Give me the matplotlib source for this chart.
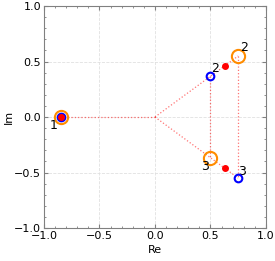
import numpy as np
import matplotlib
matplotlib.use("Agg")
import matplotlib.pyplot as plt
from matplotlib.ticker import MultipleLocator

# points (complex plane)
blue_re = [-0.85, 0.50, 0.75]
blue_im = [0.00, 0.37, -0.55]
orange_re = [-0.85, 0.75, 0.50]
orange_im = [0.00, 0.55, -0.37]
red_re = [-0.85, 0.63, 0.63]
red_im = [0.00, 0.46, -0.46]

# labels: (text, re, im, dx, dy) offsets in points
labels = [
    ("1", -0.85, 0.00, -5, -6),
    ("2", 0.50, 0.37, 3, 5),
    ("2", 0.75, 0.55, 4, 6),
    ("3", 0.50, -0.37, -4, -6),
    ("3", 0.75, -0.55, 3, 5),
]

fig = plt.figure(figsize=(2.75, 2.61), dpi=100)
ax = fig.add_axes([0.16, 0.1264, 0.807, 0.8506])

line_kw = dict(color="red", linestyle=":", linewidth=0.9, alpha=0.55, zorder=1)
# horizontal line from pole 1 to origin
ax.plot([red_re[0], 0], [red_im[0], 0], **line_kw)
# rays from origin
ax.plot([0, orange_re[1]], [0, orange_im[1]], **line_kw)
ax.plot([0, blue_re[2]], [0, blue_im[2]], **line_kw)
# vertical lines
ax.plot([blue_re[1], orange_re[2]], [blue_im[1], orange_im[2]], **line_kw)
ax.plot([orange_re[1], blue_re[2]], [orange_im[1], blue_im[2]], **line_kw)

ax.plot(orange_re, orange_im, "o", ms=9.5, mfc="none", mec="darkorange", mew=1.5, ls="none", zorder=3)
ax.plot(blue_re, blue_im, "o", ms=5.5, mfc="none", mec="blue", mew=1.5, ls="none", zorder=4)
ax.plot(red_re, red_im, "o", ms=4, color="red", ls="none", zorder=5)

for txt, x, y, dx, dy in labels:
    ax.annotate(txt, (x, y), xytext=(dx, dy), textcoords="offset points",
                ha="center", va="center", fontsize=9)

ax.set_xlim(-1, 1)
ax.set_ylim(-1, 1)
ax.xaxis.set_major_locator(MultipleLocator(0.5))
ax.yaxis.set_major_locator(MultipleLocator(0.5))
ax.xaxis.set_minor_locator(MultipleLocator(0.1))
ax.yaxis.set_minor_locator(MultipleLocator(0.1))
ax.tick_params(which="both", direction="in", top=True, right=True, color="gray",
               labelsize=8, pad=2)
ax.tick_params(which="major", length=3)
ax.tick_params(which="minor", length=1.5)
for s in ax.spines.values():
    s.set_color("gray")
ax.grid(True, linestyle="--", color="#e0e0e0", linewidth=0.6)
ax.set_axisbelow(True)
ax.set_xlabel("Re", fontsize=8, labelpad=3)
ax.set_ylabel("Im", fontsize=8, labelpad=0)

fig.savefig("out.png", dpi=100)
